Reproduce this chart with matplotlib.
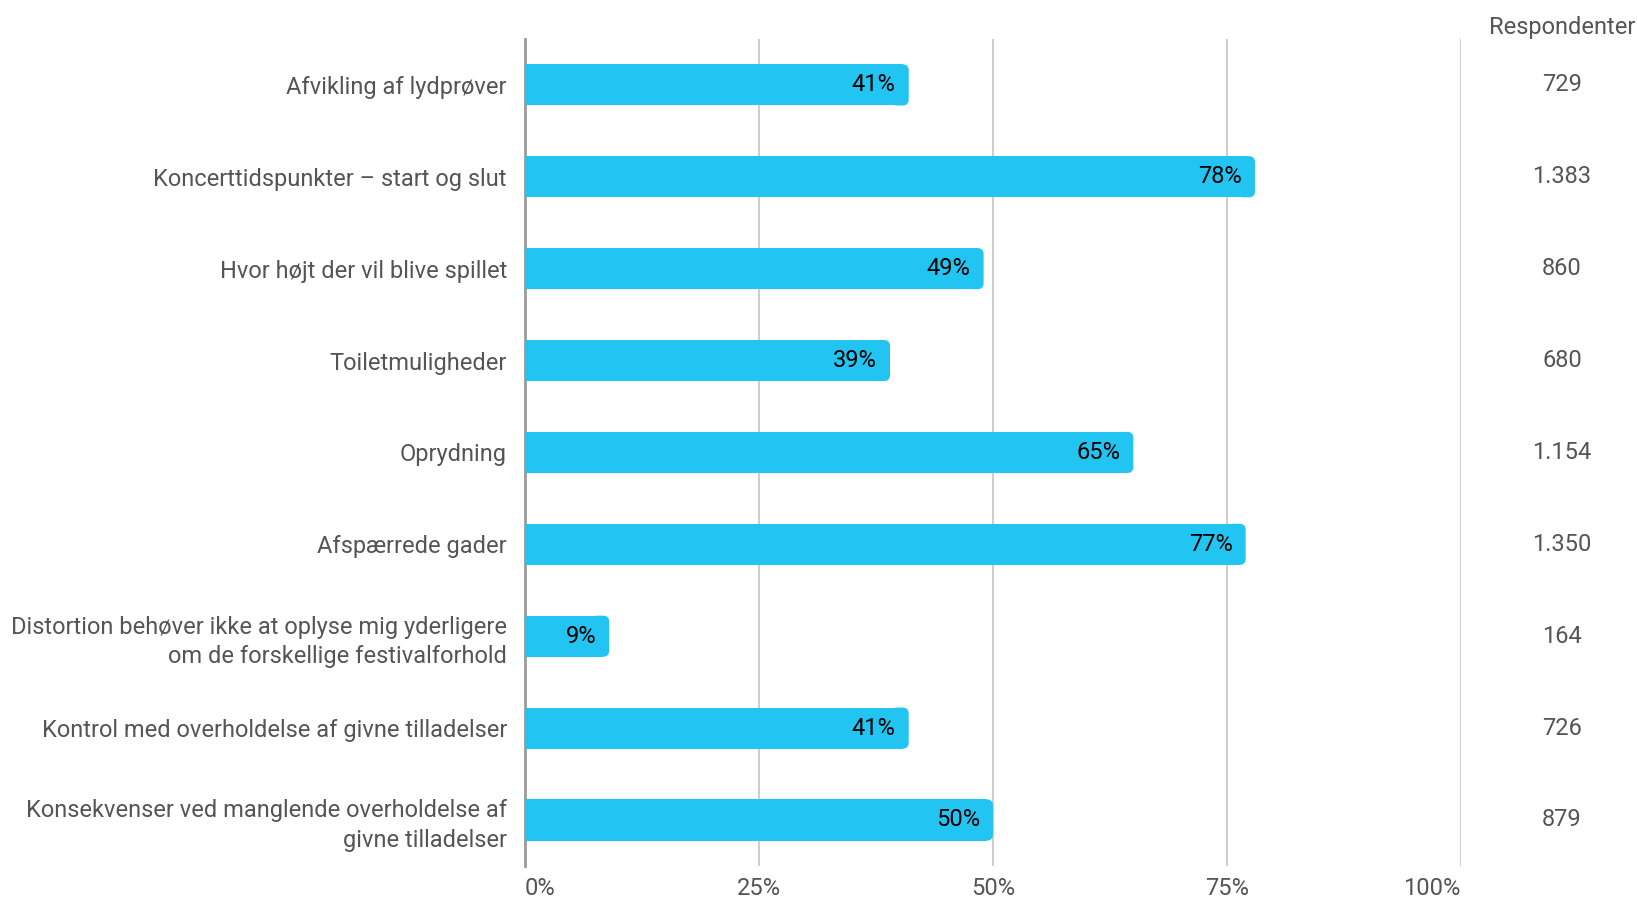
#!/usr/bin/env python

import matplotlib.pyplot as plt
from matplotlib.patches import FancyBboxPatch

CATEGORIES = [
    "Afvikling af lydprøver",
    "Koncerttidspunkter – start og slut",
    "Hvor højt der vil blive spillet",
    "Toiletmuligheder",
    "Oprydning",
    "Afspærrede gader",
    "Distortion behøver ikke at oplyse mig yderligere\nom de forskellige festivalforhold",
    "Kontrol med overholdelse af givne tilladelser",
    "Konsekvenser ved manglende overholdelse af\ngivne tilladelser",
]
PERCENT = [41, 78, 49, 39, 65, 77, 9, 41, 50]
RESPONDENTS = ["729", "1.383", "860", "680", "1.154", "1.350", "164", "726", "879"]
TICKS = [0, 25, 50, 75, 100]

BAR_COLOR = '#22c4f2'
GREY_TEXT = '#555555'
FS = 17


def main() -> None:
    plt.rcParams['font.family'] = ['Roboto', 'DejaVu Sans']

    fig = plt.figure(figsize=(16.38, 9.02), dpi=100)
    ax = fig.add_axes([0.3205, 0.0400, 0.5714, 0.9168])

    ypos = list(range(len(CATEGORIES)))
    bar_h = 0.447
    r = 0.65  # corner radius in x units
    aspect = 0.102

    for y, v in zip(ypos, PERCENT):
        ax.barh(y, v - r, height=bar_h, color=BAR_COLOR, zorder=3)
        patch = FancyBboxPatch((v - 3 * r, y - bar_h / 2), 3 * r, bar_h,
                               boxstyle=f"round,pad=0,rounding_size={r}",
                               mutation_aspect=aspect, facecolor=BAR_COLOR,
                               edgecolor='none', zorder=3)
        ax.add_patch(patch)
        ax.text(v - 1.4, y, f"{v}%", ha='right', va='center', fontsize=FS,
                color='black', zorder=4)

    for y, n in zip(ypos, RESPONDENTS):
        ax.text(110.8, y, n, ha='center', va='center', fontsize=FS,
                color=GREY_TEXT, clip_on=False)
    ax.text(110.8, -0.5, "Respondenter", ha='center', va='bottom',
            fontsize=FS, color=GREY_TEXT, clip_on=False)

    ax.set_xlim(0, 100)
    ax.set_ylim(len(CATEGORIES) - 0.5, -0.5)
    ax.set_yticks(ypos)
    ax.set_yticklabels(CATEGORIES, fontsize=FS, color=GREY_TEXT,
                       linespacing=1.35)
    ax.set_xticks(TICKS)
    labels = ax.set_xticklabels([f"{t}%" for t in TICKS], fontsize=FS,
                                color=GREY_TEXT)
    labels[0].set_ha('left')
    labels[-1].set_ha('right')

    ax.tick_params(axis='both', length=0)
    ax.tick_params(axis='y', pad=13)
    ax.tick_params(axis='x', pad=8)

    for t in TICKS[1:]:
        ax.axvline(t, color='#c8c8c8', linewidth=1.3, zorder=1)
    for side in ['top', 'right', 'bottom']:
        ax.spines[side].set_visible(False)
    ax.spines['left'].set_color('#999999')
    ax.spines['left'].set_linewidth(2)

    fig.savefig('out.png', dpi=100)


if __name__ == '__main__':
    main()
